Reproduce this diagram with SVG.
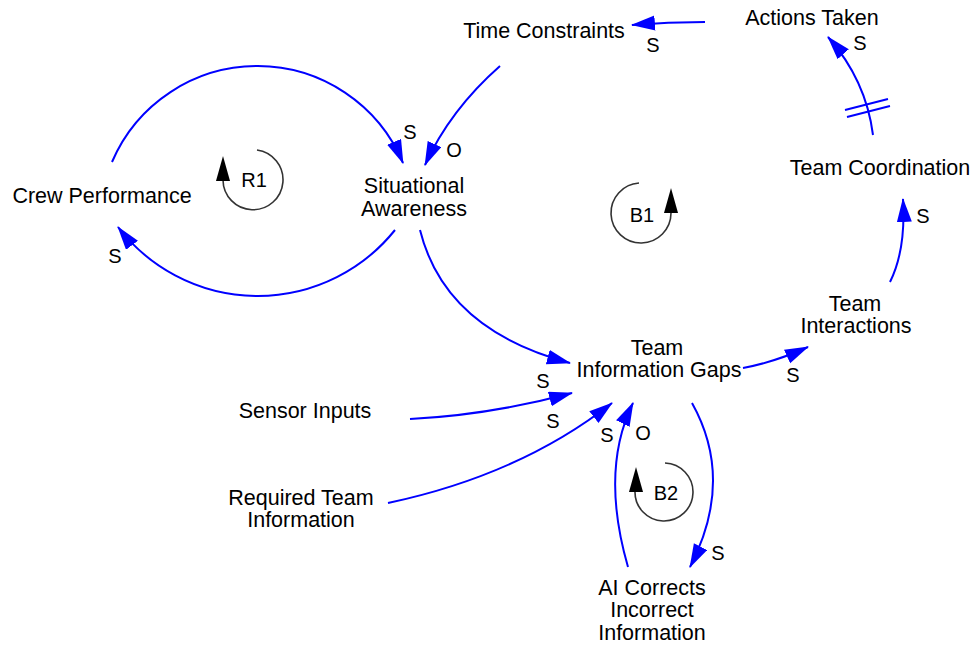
<svg xmlns="http://www.w3.org/2000/svg" width="974" height="646" viewBox="0 0 974 646">
<style>
.lbl{font-family:"Liberation Sans",Arial,sans-serif;font-size:21.5px;fill:#000;text-anchor:middle}
.pol{font-family:"Liberation Sans",Arial,sans-serif;font-size:20px;fill:#000;text-anchor:middle}
.lnk{fill:none;stroke:#0000ff;stroke-width:2;marker-end:url(#ah)}
.loop{fill:none;stroke:#333;stroke-width:1.6}
</style>
<defs>
<marker id="ah" markerUnits="userSpaceOnUse" markerWidth="26" markerHeight="16" refX="23" refY="7.5" orient="auto">
<path d="M0,0 L24,7.5 L0,15 z" fill="#0000ff"/>
</marker>
</defs>
<rect width="974" height="646" fill="#fff"/>
<g id="connectors">
<path class="lnk" d="M705,22 Q668,22 632,25"/>
<path class="lnk" d="M500,66 Q450,110 425,165"/>
<path class="lnk" d="M112,162 A158,158 0 0 1 403,163"/>
<path class="lnk" d="M395,230 A176,176 0 0 1 118,227"/>
<path class="lnk" d="M420,230 Q445,330 570,363"/>
<path class="lnk" d="M410,419 Q490,415 572,393"/>
<path class="lnk" d="M388,503 Q520,475 612,403"/>
<path class="lnk" d="M628,567 Q600,470 633,403"/>
<path class="lnk" d="M692,403 Q735,480 690,567"/>
<path class="lnk" d="M743,368 Q775,362 808,347"/>
<path class="lnk" d="M890,282 Q906,250 903,199"/>
<path class="lnk" d="M873,135 Q866,80 828,37"/>
<path d="M845,110 L888,99 M847,117 L890,106" stroke="#0000ff" stroke-width="2" fill="none"/>
<text class="pol" x="653" y="52">S</text>
<text class="pol" x="454" y="157">O</text>
<text class="pol" x="410" y="139">S</text>
<text class="pol" x="115" y="263">S</text>
<text class="pol" x="543" y="388">S</text>
<text class="pol" x="553" y="428">S</text>
<text class="pol" x="607" y="442">S</text>
<text class="pol" x="643" y="440">O</text>
<text class="pol" x="718" y="560">S</text>
<text class="pol" x="793" y="382">S</text>
<text class="pol" x="923" y="223">S</text>
<text class="pol" x="860" y="50">S</text>
</g>
<g id="time-constraints"><text class="lbl" x="544" y="38">Time Constraints</text></g>
<g id="actions-taken"><text class="lbl" x="812" y="25">Actions Taken</text></g>
<g id="crew-performance"><text class="lbl" x="102" y="203">Crew Performance</text></g>
<g id="situational-awareness"><text class="lbl" x="414" y="193">Situational</text><text class="lbl" x="414" y="216">Awareness</text></g>
<g id="team-coordination"><text class="lbl" x="880" y="175">Team Coordination</text></g>
<g id="team-interactions"><text class="lbl" x="855" y="311">Team</text><text class="lbl" x="856" y="333">Interactions</text></g>
<g id="team-information-gaps"><text class="lbl" x="657" y="355">Team</text><text class="lbl" x="659" y="377">Information Gaps</text></g>
<g id="sensor-inputs"><text class="lbl" x="305" y="418">Sensor Inputs</text></g>
<g id="required-team-information"><text class="lbl" x="301" y="505">Required Team</text><text class="lbl" x="301" y="527">Information</text></g>
<g id="ai-corrects"><text class="lbl" x="652" y="595">AI Corrects</text><text class="lbl" x="652" y="617">Incorrect</text><text class="lbl" x="652" y="640">Information</text></g>
<g id="loop-r1">
<path class="loop" d="M257,150 A30,30 0 1 1 223,180"/>
<polygon points="223,156 230,181 216,181" fill="#000"/>
<text class="pol" x="254" y="187">R1</text>
</g>
<g id="loop-b1">
<path class="loop" d="M639,183 A30,30 0 1 0 671,213"/>
<polygon points="671,188 678,213 664,213" fill="#000"/>
<text class="pol" x="642" y="222">B1</text>
</g>
<g id="loop-b2">
<path class="loop" d="M665,463 A29,29 0 1 1 635,491"/>
<polygon points="636,467 643,492 629,492" fill="#000"/>
<text class="pol" x="666" y="500">B2</text>
</g>
</svg>
